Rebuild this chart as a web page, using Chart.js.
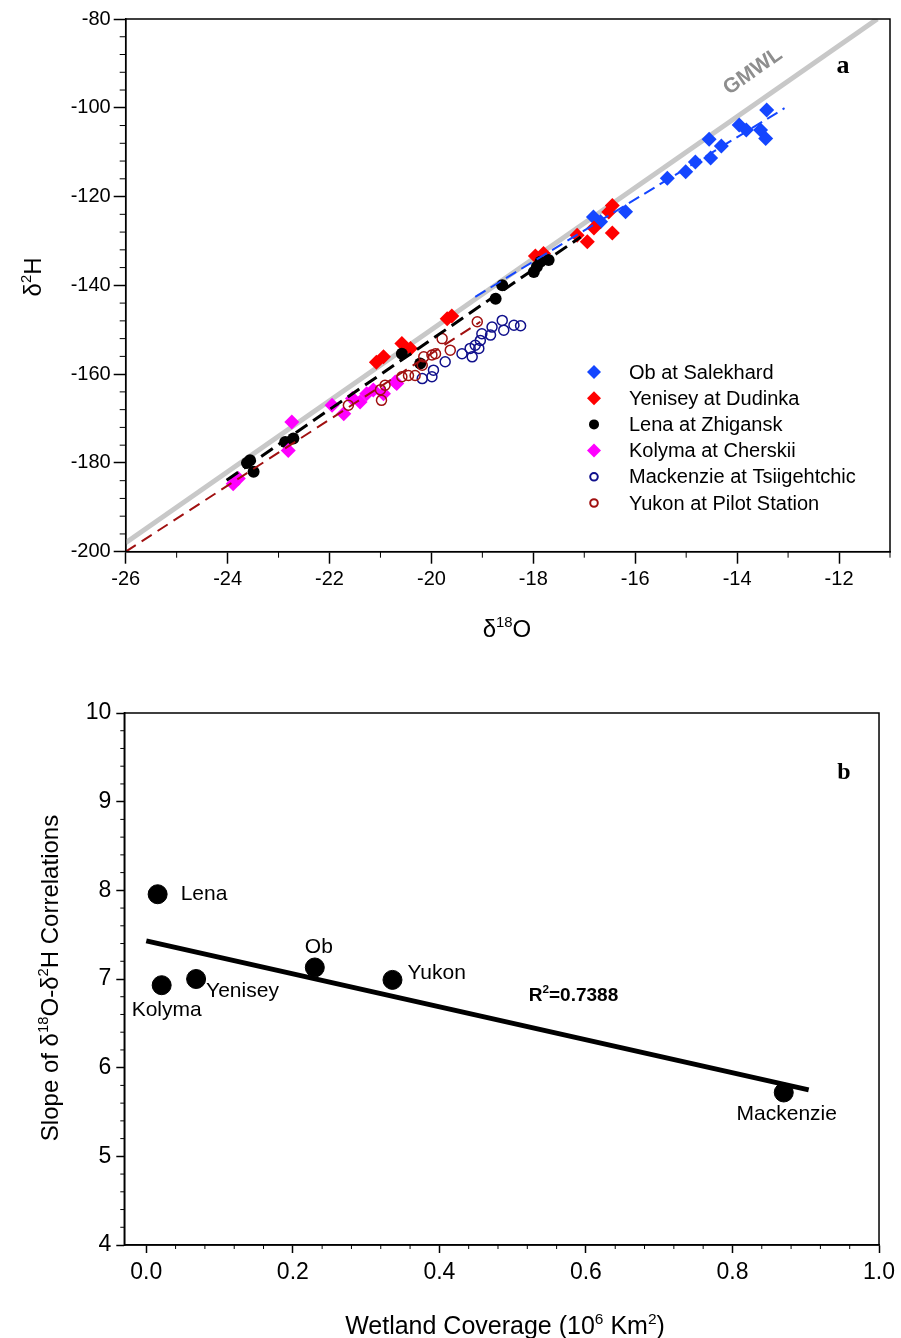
<!DOCTYPE html>
<html>
<head>
<meta charset="utf-8">
<script src="https://cdn.jsdelivr.net/npm/chart.js@4.4.1/dist/chart.umd.min.js"></script>
<style>
  html, body { margin: 0; padding: 0; background: #fff; }
  #wrap { position: relative; width: 901px; height: 1338px; }
  canvas { position: absolute; left: 0; }
  #chartA { top: 0; width: 901px; height: 660px; }
  #chartB { top: 660px; width: 901px; height: 678px; }
</style>
</head>
<body>
<div id="wrap">
  <canvas id="chartA" width="901" height="660"></canvas>
  <canvas id="chartB" width="901" height="678"></canvas>
</div>
<script>
// ---- panel a data (d18O, d2H) ----
const obX = [-13.42, -13.96, -13.82, -13.54, -13.44, -14.55, -14.31, -14.52, -14.82, -15.01, -15.37, -16.19, -16.68, -16.82]
const obY = [-100.5, -103.9, -105.0, -105.0, -106.9, -107.1, -108.6, -111.3, -112.2, -114.4, -115.9, -123.4, -125.7, -124.6]

const yenX = [-16.45, -16.52, -16.81, -16.45, -16.94, -17.14, -17.96, -17.80, -19.69, -19.60, -20.58, -20.41, -20.94, -21.08]
const yenY = [-122.0, -123.5, -127.1, -128.2, -130.2, -128.7, -133.4, -132.8, -147.5, -146.9, -153.1, -154.2, -156.1, -157.3]

const lenaX = [-17.86, -17.70, -17.93, -17.99, -18.61, -18.74, -20.58, -20.22, -22.87, -22.71, -23.56, -23.49, -23.62]
const lenaY = [-134.7, -134.3, -135.8, -137.0, -140.0, -143.0, -155.4, -157.6, -175.3, -174.5, -179.4, -182.0, -180.0]

const kolX = [-22.74, -22.81, -23.89, -23.79, -21.95, -21.72, -21.55, -21.40, -21.27, -21.14, -20.94, -20.68, -20.71]
const kolY = [-170.8, -177.2, -184.7, -183.5, -167.0, -168.9, -165.5, -166.3, -164.4, -163.6, -164.4, -162.1, -161.8]

const mackX = [-18.25, -18.38, -18.61, -18.58, -18.81, -18.84, -19.01, -19.04, -19.14, -19.24, -19.07, -19.40, -19.20, -19.73, -19.96, -19.99, -20.18]
const mackY = [-149.1, -149.0, -147.9, -150.1, -149.4, -151.2, -150.9, -152.4, -153.5, -154.2, -154.2, -155.4, -156.1, -157.2, -159.1, -160.6, -161.0]

const yukX = [-19.10, -19.79, -19.63, -19.92, -20.15, -20.18, -20.32, -20.45, -20.58, -20.91, -20.98, -21.00, -21.63, -19.99]
const yukY = [-148.2, -152.0, -154.6, -155.4, -156.1, -158.0, -160.3, -160.3, -160.6, -162.5, -165.9, -163.5, -167.0, -155.7]

// fitted lines (end points)
const gmwlX = [-26, -11.25]
const gmwlY = [-198, -80]
const obFitX = [-19.14, -13.07]
const obFitY = [-142.6, -100.1]
const lenaFitX = [-24.02, -17.07]
const lenaFitY = [-183.9, -129.1]
const yukFitX = [-26, -19.04]
const yukFitY = [-200, -148.2]

const ticksAX = [-26, -24, -22, -20, -18, -16, -14, -12]
const ticksAY = [-200, -180, -160, -140, -120, -100, -80]

// ---- panel b data ----
const rivers = ['Lena', 'Kolyma', 'Yenisey', 'Ob', 'Yukon', 'Mackenzie']
const wetland = [0.0155, 0.021, 0.068, 0.23, 0.336, 0.870]
const slopes = [7.956, 6.93, 7.00, 7.13, 6.99, 5.72]
const fitBX = [0, 0.904]
const fitBY = [7.43, 5.75]
const ticksBX = [0, 0.2, 0.4, 0.6, 0.8, 1.0]
const ticksBY = [4, 5, 6, 7, 8, 9, 10]

const SANS = 'Arial, "Liberation Sans", sans-serif'
const SERIF = '"Times New Roman", "Liberation Serif", serif'

const pts = (xs, ys) => xs.map((x, i) => ({x, y: ys[i]}))

// text with superscripts; parts = [[text, isSup], ...], (x, y) is the centre
function richText(ctx, parts, x, y, size, o = {}) {
  const font = s => `${o.bold ? 'bold ' : ''}${s}px ${o.family || SANS}`
  ctx.save()
  ctx.translate(x, y)
  if (o.rotate) ctx.rotate(o.rotate)
  let w = 0
  parts.forEach(([t, sup]) => {
    ctx.font = font(sup ? size * 0.62 : size)
    w += ctx.measureText(t).width
  })
  let cx = o.align === 'left' ? 0 : -w / 2
  ctx.textBaseline = 'alphabetic'
  ctx.textAlign = 'left'
  ctx.fillStyle = o.color || '#000'
  parts.forEach(([t, sup]) => {
    ctx.font = font(sup ? size * 0.62 : size)
    ctx.fillText(t, cx, size * 0.36 - (sup ? size * 0.42 : 0))
    cx += ctx.measureText(t).width
  })
  ctx.restore()
}

// box + minor ticks
function framePlugin(minorX, minorY, lenX, lenY) {
  return {
    id: 'frame',
    afterDraw(chart) {
      const {ctx, chartArea: a} = chart
      const xs = chart.scales.x, ys = chart.scales.y
      ctx.save()
      ctx.strokeStyle = '#000'
      ctx.lineWidth = 1.5
      ctx.strokeRect(a.left, a.top, a.right - a.left, a.bottom - a.top)
      ctx.lineWidth = 1
      ctx.beginPath()
      minorX.forEach(v => {
        const p = xs.getPixelForValue(v)
        ctx.moveTo(p, a.bottom); ctx.lineTo(p, a.bottom + lenX)
      })
      minorY.forEach(v => {
        const p = ys.getPixelForValue(v)
        ctx.moveTo(a.left, p); ctx.lineTo(a.left - lenY, p)
      })
      ctx.stroke()
      ctx.restore()
    }
  }
}

function minorList(from, to, step, skip) {
  const out = []
  for (let v = from; v <= to + 1e-9; v += step) {
    const r = Math.round(v * 1000) / 1000
    if (Math.abs(r / skip - Math.round(r / skip)) > 1e-6) out.push(r)
  }
  return out
}

function drawMarker(ctx, style, x, y, r, fill, stroke, bw) {
  ctx.beginPath()
  if (style === 'rectRot') {
    ctx.moveTo(x, y - r); ctx.lineTo(x + r, y); ctx.lineTo(x, y + r); ctx.lineTo(x - r, y); ctx.closePath()
  } else {
    ctx.arc(x, y, r, 0, Math.PI * 2)
  }
  if (fill) { ctx.fillStyle = fill; ctx.fill() }
  if (stroke) { ctx.strokeStyle = stroke; ctx.lineWidth = bw; ctx.stroke() }
}

// ---------------- panel a ----------------
const BLUE = '#1446ff', RED = '#ff0000', MAG = '#ff00ff', NAVY = '#10108c', DRED = '#a01010'

const seriesA = [
  {label: 'Ob at Salekhard', data: pts(obX, obY), style: 'rectRot', r: 7.5, fill: BLUE, stroke: BLUE},
  {label: 'Yenisey at Dudinka', data: pts(yenX, yenY), style: 'rectRot', r: 7.5, fill: RED, stroke: RED},
  {label: 'Lena at Zhigansk', data: pts(lenaX, lenaY), style: 'circle', r: 6, fill: '#000', stroke: '#000'},
  {label: 'Kolyma at Cherskii', data: pts(kolX, kolY), style: 'rectRot', r: 7.5, fill: MAG, stroke: MAG},
  {label: 'Mackenzie at Tsiigehtchic', data: pts(mackX, mackY), style: 'circle', r: 5, fill: null, stroke: NAVY},
  {label: 'Yukon at Pilot Station', data: pts(yukX, yukY), style: 'circle', r: 5, fill: null, stroke: DRED},
]

const datasetsA = [
  {type: 'line', data: pts(gmwlX, gmwlY), borderColor: '#c8c8c8', borderWidth: 5, pointRadius: 0, order: 20},
  ...seriesA.map((s, i) => ({
    type: 'scatter', label: s.label, data: s.data,
    pointStyle: s.style, pointRadius: s.r, pointHoverRadius: s.r,
    backgroundColor: s.fill || 'rgba(0,0,0,0)', borderColor: s.stroke,
    pointBorderWidth: s.fill ? 0 : 1.5, order: 10 - i,
  })),
  {type: 'line', data: pts(obFitX, obFitY), borderColor: BLUE, borderWidth: 2, borderDash: [12, 6], pointRadius: 0, order: 1},
  {type: 'line', data: pts(lenaFitX, lenaFitY), borderColor: '#000', borderWidth: 3, borderDash: [14, 7], pointRadius: 0, order: 1},
  {type: 'line', data: pts(yukFitX, yukFitY), borderColor: DRED, borderWidth: 2, borderDash: [12, 7], pointRadius: 0, order: 1},
]

const decorA = {
  id: 'decorA',
  afterDraw(chart) {
    const {ctx} = chart
    // axis titles
    richText(ctx, [['δ', 0], ['2', 1], ['H', 0]], 32, 277, 24, {rotate: -Math.PI / 2})
    richText(ctx, [['δ', 0], ['18', 1], ['O', 0]], 507, 628, 24)
    // panel letter and GMWL label
    ctx.save()
    ctx.fillStyle = '#000'
    ctx.font = `bold 26px ${SERIF}`
    ctx.textAlign = 'center'
    ctx.textBaseline = 'alphabetic'
    ctx.fillText('a', 843, 73)
    ctx.restore()
    richText(ctx, [['GMWL', 0]], 752, 70, 21, {bold: true, color: '#8e8e8e', rotate: -35 * Math.PI / 180})
    // legend
    ctx.save()
    seriesA.forEach((s, i) => {
      const y = 372 + i * 26.2
      const r = s.style === 'rectRot' ? 7 : (s.fill ? 5 : 3.8)
      drawMarker(ctx, s.style, 594, y, r, s.fill, s.fill ? null : s.stroke, 2)
      ctx.fillStyle = '#000'
      ctx.font = `20px ${SANS}`
      ctx.textAlign = 'left'
      ctx.textBaseline = 'middle'
      ctx.fillText(s.label, 629, y + 1)
    })
    ctx.restore()
  }
}

new Chart(document.getElementById('chartA'), {
  data: {datasets: datasetsA},
  options: {
    responsive: false,
    animation: false,
    layout: {padding: {top: 19, right: 11, left: 0, bottom: 0}},
    plugins: {legend: {display: false}, tooltip: {enabled: false}},
    scales: {
      x: {
        type: 'linear', min: -26, max: -11,
        afterBuildTicks: s => { s.ticks = ticksAX.map(v => ({value: v})) },
        afterFit: s => { s.height = 108.3 },
        grid: {drawOnChartArea: false, drawTicks: true, tickLength: 12, tickColor: '#000', tickWidth: 1.5},
        border: {display: true, color: '#000', width: 1.5},
        ticks: {color: '#000', font: {family: SANS, size: 20}, padding: 4, maxRotation: 0, callback: v => String(v)},
      },
      y: {
        type: 'linear', min: -200, max: -80,
        afterBuildTicks: s => { s.ticks = ticksAY.map(v => ({value: v})) },
        afterFit: s => { s.width = 125.7 },
        grid: {drawOnChartArea: false, drawTicks: true, tickLength: 12, tickColor: '#000', tickWidth: 1.5},
        border: {display: true, color: '#000', width: 1.5},
        ticks: {color: '#000', font: {family: SANS, size: 20}, padding: 3, callback: v => String(v)},
      },
    },
  },
  plugins: [framePlugin(minorList(-26, -11, 1, 2), minorList(-200, -80, 4, 20), 6, 6), decorA],
})

// ---------------- panel b ----------------
const labelOffsets = {
  Lena: [23, 0, 'left'], Kolyma: [5, 25, 'center'], Yenisey: [10, 12, 'left'],
  Ob: [4, -20, 'center'], Yukon: [15, -7, 'left'], Mackenzie: [3, 22, 'center'],
}

const decorB = {
  id: 'decorB',
  afterDraw(chart) {
    const {ctx} = chart
    const xs = chart.scales.x, ys = chart.scales.y
    ctx.save()
    ctx.fillStyle = '#000'
    ctx.font = `21px ${SANS}`
    ctx.textBaseline = 'middle'
    rivers.forEach((name, i) => {
      const [dx, dy, al] = labelOffsets[name]
      ctx.textAlign = al
      ctx.fillText(name, xs.getPixelForValue(wetland[i]) + dx, ys.getPixelForValue(slopes[i]) + dy)
    })
    ctx.font = `bold 24px ${SERIF}`
    ctx.textAlign = 'center'
    ctx.textBaseline = 'alphabetic'
    ctx.fillText('b', 844, 119)
    ctx.restore()
    richText(ctx, [['R', 0], ['2', 1], ['=0.7388', 0]], xs.getPixelForValue(0.583), ys.getPixelForValue(6.83), 19, {bold: true})
    richText(ctx, [['Slope of ', 0], ['δ', 0], ['18', 1], ['O-', 0], ['δ', 0], ['2', 1], ['H Correlations', 0]], 49, 318, 24, {rotate: -Math.PI / 2})
    richText(ctx, [['Wetland Coverage (10', 0], ['6', 1], [' Km', 0], ['2', 1], [')', 0]], 505, 665, 25)
  }
}

new Chart(document.getElementById('chartB'), {
  data: {
    datasets: [
      {type: 'line', data: pts(fitBX, fitBY), borderColor: '#000', borderWidth: 5, pointRadius: 0, order: 2},
      {type: 'scatter', data: pts(wetland, slopes), pointStyle: 'circle', pointRadius: 9.5, backgroundColor: '#000', borderColor: '#000', order: 1},
    ],
  },
  options: {
    responsive: false,
    animation: false,
    layout: {padding: {top: 53, right: 16.3, left: 0, bottom: 0}},
    plugins: {legend: {display: false}, tooltip: {enabled: false}},
    scales: {
      x: {
        type: 'linear', min: -0.03, max: 1.0,
        afterBuildTicks: s => { s.ticks = ticksBX.map(v => ({value: v})) },
        afterFit: s => { s.height = 93 },
        grid: {drawOnChartArea: false, drawTicks: true, tickLength: 8, tickColor: '#000', tickWidth: 1.5},
        border: {display: true, color: '#000', width: 1.5},
        ticks: {color: '#000', font: {family: SANS, size: 23}, padding: 6, maxRotation: 0, callback: v => v.toFixed(1)},
      },
      y: {
        type: 'linear', min: 4, max: 10,
        afterBuildTicks: s => { s.ticks = ticksBY.map(v => ({value: v})) },
        afterFit: s => { s.width = 124.3 },
        grid: {drawOnChartArea: false, drawTicks: true, tickLength: 8, tickColor: '#000', tickWidth: 1.5},
        border: {display: true, color: '#000', width: 1.5},
        ticks: {color: '#000', font: {family: SANS, size: 23}, padding: 5, callback: v => String(v)},
      },
    },
  },
  plugins: [framePlugin(minorList(0, 1.0, 0.04, 0.2), minorList(4, 10, 0.2, 1), 4, 4), decorB],
})
</script>
</body>
</html>
